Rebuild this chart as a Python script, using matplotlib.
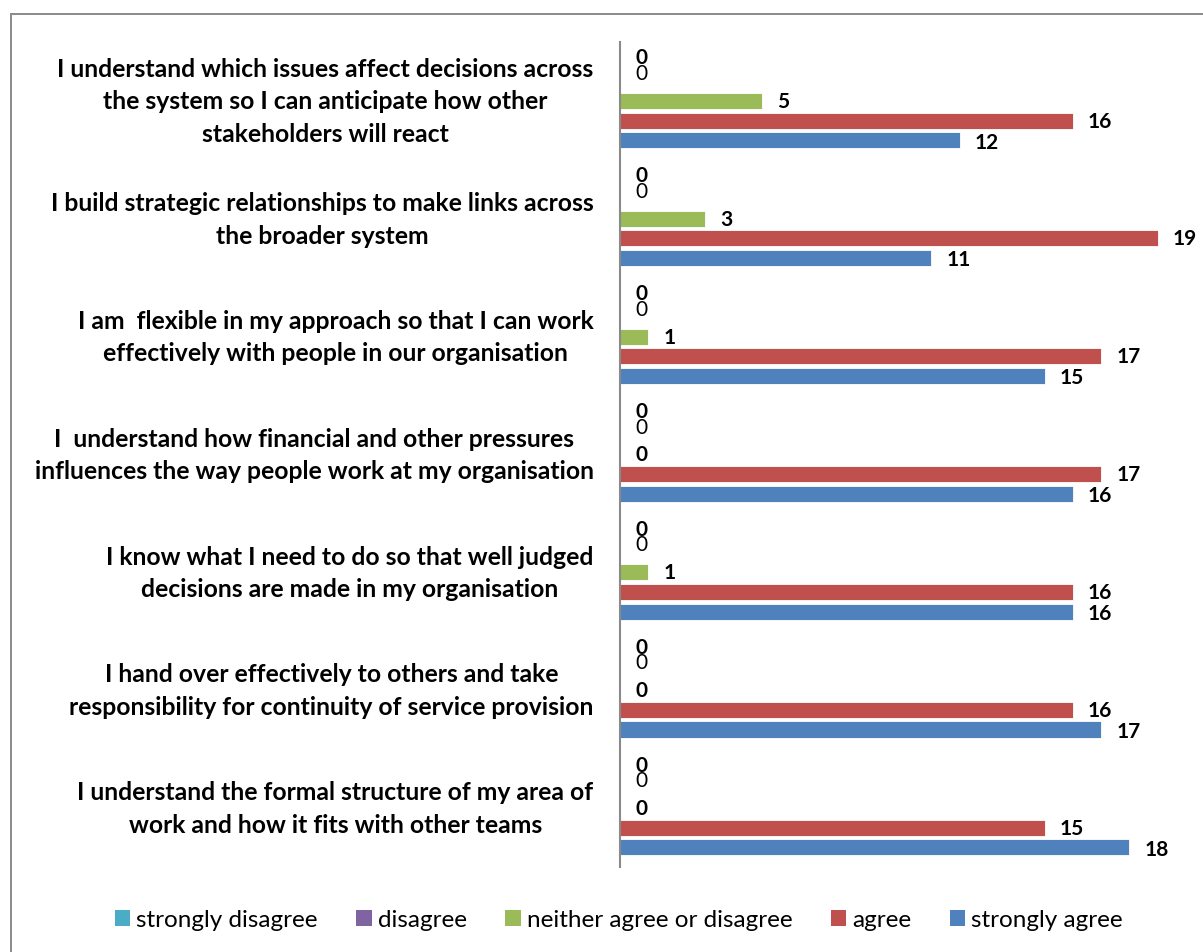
import numpy as np
import matplotlib
matplotlib.use("Agg")
import matplotlib.pyplot as plt
from matplotlib.patches import Rectangle, Patch

plt.rcParams['font.family'] = ['Lato', 'DejaVu Sans']

statements = [
    "I understand which issues affect decisions across\nthe system so I can anticipate how other\nstakeholders will react",
    "I build strategic relationships to make links across\nthe broader system",
    "I am  flexible in my approach so that I can work\neffectively with people in our organisation",
    "I  understand how financial and other pressures\ninfluences the way people work at my organisation",
    "I know what I need to do so that well judged\ndecisions are made in my organisation",
    "I hand over effectively to others and take\nresponsibility for continuity of service provision",
    "I understand the formal structure of my area of\nwork and how it fits with other teams",
]

series_names = ["strongly disagree", "disagree", "neither agree or disagree", "agree", "strongly agree"]
strongly_disagree = [0, 0, 0, 0, 0, 0, 0]
disagree = [0, 0, 0, 0, 0, 0, 0]
neither = [5, 3, 1, 0, 1, 0, 0]
agree = [16, 19, 17, 17, 16, 16, 15]
strongly_agree = [12, 11, 15, 16, 16, 17, 18]

colors = ["#4BACC6", "#8064A2", "#9BBB59", "#C0504D", "#4F81BD"]
label_weights = ["bold", "normal", "bold", "bold", "bold"]
label_dy = [3, 6, 0, 0, -1]  # points, nudges the stacked zero labels apart

W, H = 1203, 953
fig = plt.figure(figsize=(W / 100, H / 100), dpi=100)

# outer chart frame
fig.patches.append(Rectangle((11 / W, -0.05), 1.2, 1 - 15 / H + 0.05,
                             transform=fig.transFigure, fill=False,
                             edgecolor="#8a8a8a", linewidth=1.4))

ax_left, ax_top, ax_bot = 620, 43, 868
ax = fig.add_axes([ax_left / W, 1 - ax_bot / H, 566 / W, (ax_bot - ax_top) / H])

data = [strongly_disagree, disagree, neither, agree, strongly_agree]
n_groups = len(statements)
slots = 6  # five bars plus one slot of gap per group

for j, (vals, col) in enumerate(zip(data, colors)):
    ys = np.arange(n_groups) * slots + j + 1.0
    ax.barh(ys, vals, height=0.82, color=col, edgecolor="white", linewidth=0.6)
    for y, v in zip(ys, vals):
        ax.annotate(str(v), (v, y), xytext=(11, label_dy[j]), textcoords="offset points",
                    ha="left", va="center", fontsize=15, fontweight=label_weights[j],
                    color="black")

ax.set_xlim(0, 20)
ax.set_ylim(n_groups * slots, 0)
ax.set_xticks([])
ax.set_yticks([])
for s in ["top", "right", "bottom"]:
    ax.spines[s].set_visible(False)
ax.spines["left"].set_color("#8a8a8a")
ax.spines["left"].set_linewidth(1.5)

# category labels, centred lines in a block right-aligned to the axis
for i, txt in enumerate(statements):
    yc = i * slots + 3.0
    ax.annotate(txt, (0, yc), xytext=(-19, 0), textcoords="offset points",
                ha="right", va="center", multialignment="center",
                fontsize=17.8, fontweight="bold", linespacing=1.5,
                annotation_clip=False)

handles = [Patch(facecolor=c, edgecolor="none") for c in colors]
fig.legend(handles, series_names, loc="center", bbox_to_anchor=(619 / W, 1 - 921 / H),
           ncol=5, frameon=False, fontsize=17.5, handlelength=0.62, handleheight=0.62,
           handletextpad=0.25, columnspacing=1.6)

fig.savefig("out.png", dpi=100)
